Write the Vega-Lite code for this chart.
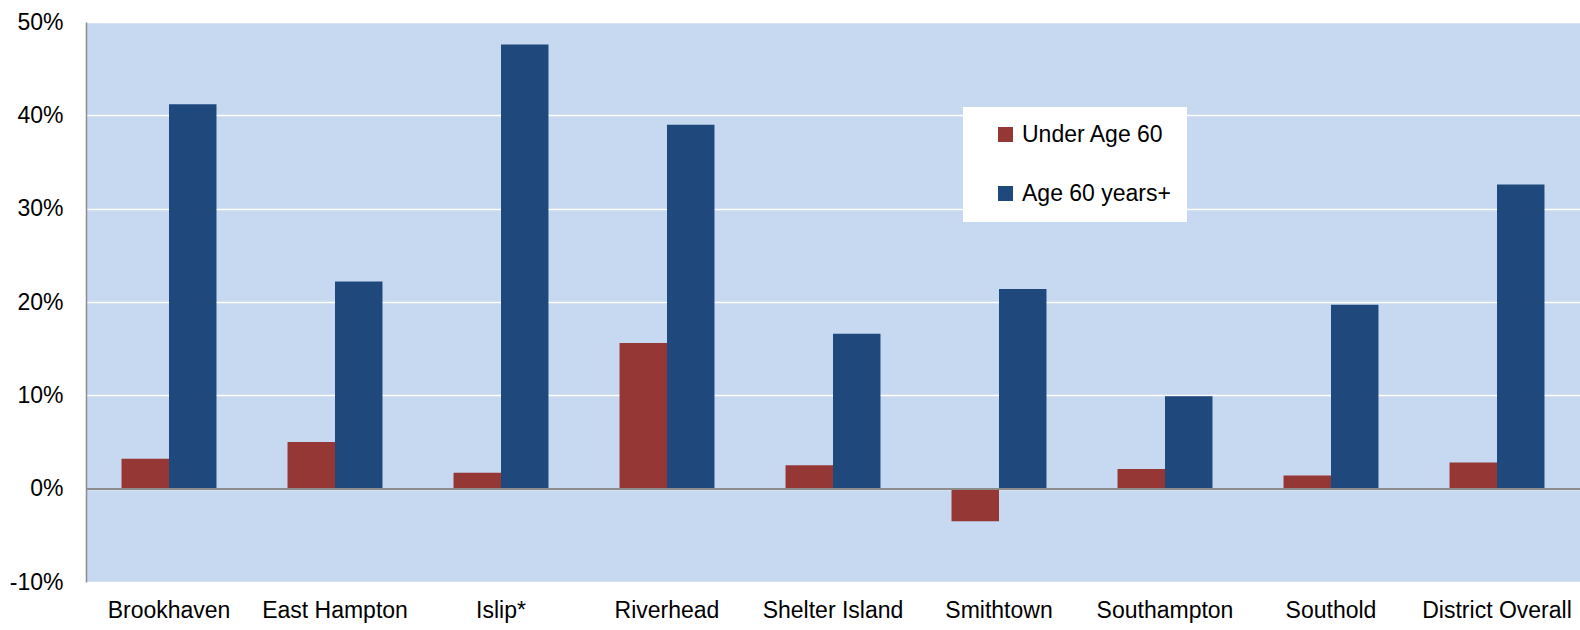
{
  "$schema": "https://vega.github.io/schema/vega-lite/v6.json",
  "width": 1494,
  "height": 560,
  "autosize": {"type": "none"},
  "padding": {"left": 86, "top": 22, "right": 0, "bottom": 48},
  "background": "white",
  "config": {"view": {"fill": "#C6D9F1", "stroke": null}, "font": "Liberation Sans"},
  "data": {"values": [
    {"town": "Brookhaven", "group": "Under Age 60", "value": 3.2},
    {"town": "Brookhaven", "group": "Age 60 years+", "value": 41.2},
    {"town": "East Hampton", "group": "Under Age 60", "value": 5.0},
    {"town": "East Hampton", "group": "Age 60 years+", "value": 22.2},
    {"town": "Islip*", "group": "Under Age 60", "value": 1.7},
    {"town": "Islip*", "group": "Age 60 years+", "value": 47.6},
    {"town": "Riverhead", "group": "Under Age 60", "value": 15.6},
    {"town": "Riverhead", "group": "Age 60 years+", "value": 39.0},
    {"town": "Shelter Island", "group": "Under Age 60", "value": 2.5},
    {"town": "Shelter Island", "group": "Age 60 years+", "value": 16.6},
    {"town": "Smithtown", "group": "Under Age 60", "value": -3.5},
    {"town": "Smithtown", "group": "Age 60 years+", "value": 21.4},
    {"town": "Southampton", "group": "Under Age 60", "value": 2.1},
    {"town": "Southampton", "group": "Age 60 years+", "value": 9.9},
    {"town": "Southold", "group": "Under Age 60", "value": 1.4},
    {"town": "Southold", "group": "Age 60 years+", "value": 19.7},
    {"town": "District Overall", "group": "Under Age 60", "value": 2.8},
    {"town": "District Overall", "group": "Age 60 years+", "value": 32.6}
  ]},
  "layer": [
    {
      "mark": {"type": "bar"},
      "encoding": {
        "x": {"field": "town", "type": "nominal", "sort": null,
          "scale": {"paddingInner": 0.428, "paddingOuter": 0.214},
          "axis": {"title": null, "labelAngle": 0, "labelFontSize": 23, "labelColor": "black", "ticks": false, "domain": false, "labelPadding": 17, "grid": false}},
        "xOffset": {"field": "group", "type": "nominal", "sort": ["Under Age 60", "Age 60 years+"], "scale": {"paddingInner": 0, "paddingOuter": 0}},
        "y": {"field": "value", "type": "quantitative", "scale": {"domain": [-10, 50], "nice": false},
          "axis": {"title": null, "values": [-10, 0, 10, 20, 30, 40, 50], "labelExpr": "datum.value + '%'", "gridColor": "white", "gridWidth": 1.5, "ticks": false, "domainColor": "#8c8c8c", "domainWidth": 1.5, "labelFontSize": 23, "labelPadding": 23, "labelColor": "black"}},
        "color": {"field": "group", "type": "nominal",
          "scale": {"domain": ["Under Age 60", "Age 60 years+"], "range": ["#953735", "#1F497D"]},
          "legend": {"title": null, "orient": "none", "legendX": 877, "legendY": 85, "fillColor": "white", "padding": 16, "symbolType": "square", "symbolSize": 225, "symbolOffset": 15, "labelFontSize": 23, "labelColor": "black", "rowPadding": 35, "symbolStrokeWidth": 0, "labelOffset": 5}}
      }
    },
    {
      "mark": {"type": "rule", "color": "#8c8c8c", "strokeWidth": 1.5},
      "encoding": {"y": {"datum": 0}}
    }
  ]
}
